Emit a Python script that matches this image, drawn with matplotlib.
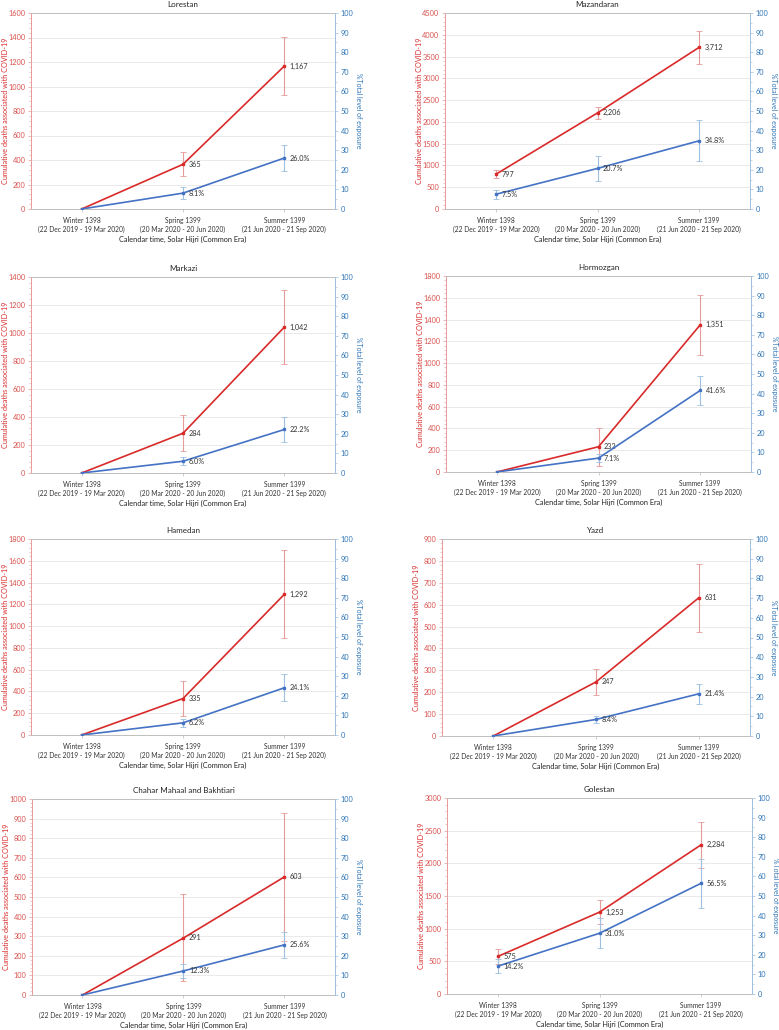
import matplotlib
matplotlib.use("Agg")
import matplotlib.pyplot as plt
from matplotlib.ticker import MultipleLocator, AutoMinorLocator

plt.rcParams['font.family'] = ['Lato', 'DejaVu Sans']

seasons = ["Winter 1398\n(22 Dec 2019 - 19 Mar 2020)",
           "Spring 1399\n(20 Mar 2020 - 20 Jun 2020)",
           "Summer 1399\n(21 Jun 2020 - 21 Sep 2020)"]

provinces = ["Lorestan", "Mazandaran", "Markazi", "Hormozgan",
             "Hamedan", "Yazd", "Chahar Mahaal and Bakhtiari", "Golestan"]

# cumulative deaths and their error half-widths
deaths = [[0, 365, 1167], [797, 2206, 3712], [0, 284, 1042], [0, 232, 1351],
          [0, 335, 1292], [0, 247, 631], [0, 291, 603], [575, 1253, 2284]]
deaths_err = [[0, 97, 238], [92, 140, 380], [0, 130, 267], [0, 176, 277],
              [0, 164, 405], [0, 60, 155], [0, 222, 325], [119, 188, 349]]

# % total level of exposure and error half-widths
exposure = [[0, 8.1, 26.0], [7.5, 20.7, 34.8], [0, 6.0, 22.2], [0, 7.1, 41.6],
            [0, 6.2, 24.1], [0, 8.4, 21.4], [0, 12.3, 25.6], [14.2, 31.0, 56.5]]
exposure_err = [[0, 2.9, 6.5], [2.4, 6.3, 10.4], [0, 2.0, 6.4], [0, 2.0, 7.6],
                [0, 1.9, 7.0], [0, 1.7, 5.1], [0, 3.4, 6.6], [3.7, 7.6, 12.5]]

# left axis maximum and step
ymax = [1600, 4500, 1400, 1800, 1800, 900, 1000, 3000]
ystep = [200, 500, 200, 200, 200, 100, 100, 500]

W, H = 779, 1030
# axes boxes in pixels: left, top, right, bottom
boxes = [(31, 13, 335, 209), (445, 13, 750, 209),
         (31, 277, 335, 473), (446, 276, 751, 472),
         (31, 539, 335, 735), (442, 539, 750, 736),
         (32, 799, 335, 995), (447, 798, 752, 994)]

red = '#d92a2a'
red_lt = '#e89a9a'
blue = '#4472c4'
blue_lt = '#9dbfe0'
red_txt = '#d9534f'
blue_txt = '#2e75b6'

fig = plt.figure(figsize=(W / 100, H / 100), dpi=100)
x = [0, 1, 2]

for i, name in enumerate(provinces):
    l, t, r, b = boxes[i]
    w = r - l
    ax = fig.add_axes([l / W, 1 - b / H, w / W, (b - t) / H])
    ax2 = ax.twinx()

    ax.errorbar(x, deaths[i], yerr=deaths_err[i], fmt='none', ecolor=red_lt,
                elinewidth=0.8, capsize=2, capthick=0.6, zorder=2)
    ax.plot(x, deaths[i], color=red, lw=1.2, marker='s', ms=2, zorder=3)
    ax2.errorbar(x, exposure[i], yerr=exposure_err[i], fmt='none', ecolor=blue_lt,
                 elinewidth=0.8, capsize=2, capthick=0.6, zorder=2)
    ax2.plot(x, exposure[i], color=blue, lw=1.2, marker='s', ms=2, zorder=3)

    for j in range(3):
        if deaths[i][j] > 0:
            ax.annotate(f"{deaths[i][j]:,}", (x[j], deaths[i][j]), xytext=(4, 0),
                        textcoords='offset points', fontsize=5.2, color='#333333',
                        va='center', ha='left')
        if exposure[i][j] > 0:
            ax2.annotate(f"{exposure[i][j]:.1f}%", (x[j], exposure[i][j]), xytext=(4, 0),
                         textcoords='offset points', fontsize=5.2, color='#333333',
                         va='center', ha='left')

    ax.set_xlim(-0.5, 2.5)
    ax.set_ylim(0, ymax[i])
    ax.yaxis.set_major_locator(MultipleLocator(ystep[i]))
    ax.yaxis.set_minor_locator(AutoMinorLocator(5))
    ax2.set_ylim(0, 100)
    ax2.yaxis.set_major_locator(MultipleLocator(10))
    ax2.yaxis.set_minor_locator(AutoMinorLocator(2))

    ax.set_xticks(x)
    ax.set_xticklabels(seasons, fontsize=4.8, color='#333333', linespacing=1.3)
    ax.tick_params(axis='x', length=2, width=0.5, color='#bbbbbb', pad=3.5)
    ax.tick_params(axis='y', which='major', labelsize=5.3, labelcolor=red_txt,
                   color=red_lt, length=2, width=0.5, pad=2)
    ax.tick_params(axis='y', which='minor', color=red_lt, length=1.2, width=0.4)
    ax2.tick_params(axis='y', which='major', labelsize=5.3, labelcolor=blue_txt,
                    color=blue_lt, length=2, width=0.5, pad=2)
    ax2.tick_params(axis='y', which='minor', color=blue_lt, length=1.2, width=0.4)

    ax.grid(axis='y', color='#e6e6e6', lw=0.6)
    ax.set_axisbelow(True)

    for a in (ax, ax2):
        a.spines['left'].set_color(red_lt)
        a.spines['right'].set_color(blue_lt)
        a.spines['top'].set_color('#bfbfbf')
        a.spines['bottom'].set_color('#bfbfbf')
        for s in a.spines.values():
            s.set_linewidth(0.6)

    ax.set_title(name, fontsize=5.8, color='#222222', pad=4)
    ax.set_ylabel("Cumulative deaths associated with COVID-19", fontsize=5.2,
                  color=red, va='center')
    ax.yaxis.set_label_coords(-25.5 / w, 0.5)
    ax2.set_ylabel("%Total level of exposure", fontsize=5.0, color=blue_txt,
                   rotation=270, va='center')
    ax2.yaxis.set_label_coords(1 + 23.5 / w, 0.5)
    ax.set_xlabel("Calendar time, Solar Hijri (Common Era)", fontsize=5.3,
                  color='#222222', labelpad=2)

fig.savefig("out.png", dpi=100)
